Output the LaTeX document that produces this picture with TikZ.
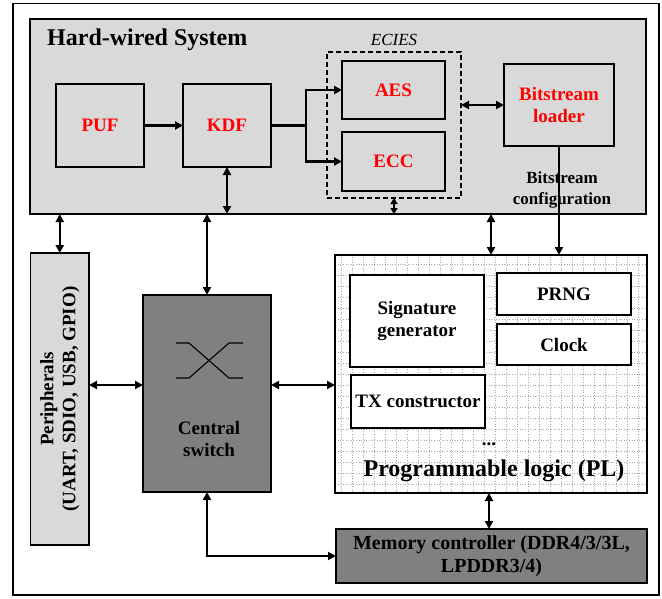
\documentclass[tikz,border=0pt]{standalone}
\usepackage{fontspec}
\setmainfont{Liberation Serif}
\usetikzlibrary{arrows.meta,calc}
\definecolor{lgray}{RGB}{217,217,217}
\definecolor{dgray}{RGB}{128,128,128}
\definecolor{lred}{RGB}{255,0,0}
\newcommand\labfont{\fontsize{19}{22}\selectfont\bfseries}
\begin{document}
\begin{tikzpicture}[x=1pt,y=-1pt,
  box/.style={draw, line width=1.7pt, inner sep=0pt, outer sep=0pt, align=center, font=\labfont},
  redbox/.style={box, fill=lgray, text=lred},
  whitebox/.style={box, fill=white},
  darkbox/.style={box, fill=dgray},
  arr/.style={line width=2.3pt, -{Triangle[length=8pt,width=8pt]}},
  darr/.style={line width=2.3pt, {Triangle[length=8pt,width=8pt]}-{Triangle[length=8pt,width=8pt]}},
  sdarr/.style={line width=2.3pt, {Triangle[length=6pt,width=7pt]}-{Triangle[length=6pt,width=7pt]}},
  lbl/.style={inner sep=0pt, align=center, font=\labfont}]
\useasboundingbox (0,0) rectangle (662,598);
% outer frame
\draw[line width=1.6pt] (13,3.5) rectangle (659,595);
% hard-wired system
\node[box, fill=lgray, minimum width=616pt, minimum height=195pt] (hw) at (338,116.5) {};
\node[lbl, anchor=west, font=\fontsize{24}{27}\selectfont\bfseries] (hwt) at (47,40) {Hard-wired System};
\node[redbox, minimum width=88pt, minimum height=83pt] (puf) at (100,125.5) {PUF};
\node[redbox, minimum width=88pt, minimum height=83pt] (kdf) at (227,125.5) {KDF};
\node[draw, line width=1.6pt, outer sep=0pt, dash pattern=on 5pt off 3pt, minimum width=134pt, minimum height=146pt, inner sep=0pt] (ecies) at (394,125) {};
\node[lbl, font=\fontsize{17}{20}\selectfont\itshape] (eciest) at (394,40) {ECIES};
\node[redbox, minimum width=103pt, minimum height=58pt] (aes) at (393.5,90) {AES};
\node[redbox, minimum width=103pt, minimum height=59pt] (ecc) at (393.5,161.5) {ECC};
\node[redbox, minimum width=110pt, minimum height=82pt] (bl) at (559,105) {Bitstream\\loader};
% peripherals
\node[box, fill=lgray, minimum width=58.5pt, minimum height=292pt] (per) at (59.75,399) {};
\node[lbl, rotate=90] (pert) at (59.75,399) {Peripherals\\(UART, SDIO, USB, GPIO)};
% central switch
\node[darkbox, minimum width=128pt, minimum height=197pt] (sw) at (207,393.5) {};
\node[lbl] (swt) at (209,439) {Central\\switch};
\draw[line width=1.1pt] (176,343) -- (189,343) -- (229,378) -- (243,378);
\draw[line width=1.1pt] (176,378) -- (189,378) -- (229,343) -- (243,343);
% programmable logic
\node[box, draw=none, fill=white, minimum width=312pt, minimum height=238pt] (pl) at (491,374) {};
\begin{scope}
\clip (336,256) rectangle (646,492);
\draw[gray!70, line width=0.7pt, dash pattern=on 1pt off 1.6pt, step=11pt] (330,250) grid (660,500);
\end{scope}
\draw[line width=1.7pt] (pl.north west) rectangle (pl.south east);
\node[whitebox, minimum width=134pt, minimum height=92pt] (sig) at (417,321) {Signature\\generator};
\node[whitebox, minimum width=134pt, minimum height=42pt] (prng) at (564,294) {PRNG};
\node[whitebox, minimum width=134pt, minimum height=41pt] (clk) at (564,344.5) {Clock};
\node[whitebox, minimum width=134pt, minimum height=53pt] (tx) at (418,401.5) {TX constructor};
\node[lbl] (dots) at (489,444) {...};
\node[lbl, font=\fontsize{24}{27}\selectfont\bfseries] (plt) at (494,471) {Programmable logic (PL)};
% memory controller
\node[darkbox, minimum width=311pt, minimum height=54pt, font=\fontsize{20}{23}\selectfont\bfseries] (mem) at (491.5,556) {Memory controller (DDR4/3/3L,\\LPDDR3/4)};
% label
\node[lbl, font=\fontsize{17}{21}\selectfont\bfseries] (bct) at (562,190) {Bitstream\\configuration};
% connectors
\draw[arr] (puf.east) -- (kdf.west);
\coordinate (split) at (306,125.5);
\draw[line width=2.3pt] (kdf.east) -- (split);
\draw[arr] (split) |- (aes.west);
\draw[arr] (split) |- (ecc.west);
\draw[darr] (bl.west -| ecies.east) -- (bl.west);
\draw[darr] (kdf.south) -- (kdf.south |- hw.south);
\draw[sdarr] (ecies.south) -- (ecies.south |- hw.south);
\draw[arr] (bl.south) -- (bl.south |- pl.north);
\draw[darr] (hw.south -| per.north) -- (per.north);
\draw[darr] (hw.south -| sw.north) -- (sw.north);
\draw[darr] (hw.south -| pl.north) -- (pl.north);
\coordinate (mid) at (0,385);
\draw[darr] (per.east |- mid) -- (sw.west |- mid);
\draw[darr] (sw.east |- mid) -- (pl.west |- mid);
\draw[darr] (pl.south -| 489,0) -- (mem.north -| 489,0);
\draw[darr] (sw.south) |- (mem.west);
\end{tikzpicture}
\end{document}
